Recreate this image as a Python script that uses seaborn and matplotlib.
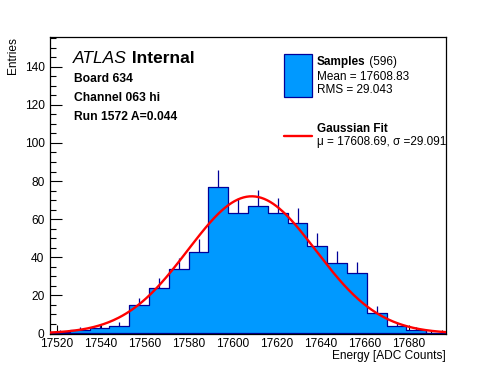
import numpy as np
import pandas as pd
import matplotlib
matplotlib.use("Agg")
import matplotlib.pyplot as plt
import seaborn as sns
from matplotlib.patches import Rectangle
from matplotlib.lines import Line2D
from matplotlib.ticker import MultipleLocator

# histogram of the energy samples (20 bins, 9 ADC counts wide)
x_low = 17517
x_high = 17697
bin_counts = [1, 2, 3, 4, 15, 24, 34, 43, 77, 63, 67, 63, 58, 46, 37, 32, 11, 4, 2, 0]

# fit result shown in the legend
fit_mu = 17608.69
fit_sigma = 29.091
fit_amp = 72.0

n_entries = 596
hist_mean = 17608.83
hist_rms = 29.043

board_lines = ["Board 634", "Channel 063 hi", "Run 1572 A=0.044"]

W, H = 496, 372
fill_col = "#0099ff"
line_col = "#000099"


def fx(px):
    return px / W


def fy(py):
    return 1 - py / H


def two_part(x, y, first, second, size, kw1, kw2):
    # one line of text where the two halves have different font styles
    t = fig.text(fx(x), fy(y), first, fontsize=size, va="baseline", **kw1)
    ax.annotate(second, xy=(1, 0), xycoords=t, va="bottom", ha="left",
                fontsize=size, annotation_clip=False, **kw2)
    return t


sns.set_style("ticks")
plt.rcParams["font.family"] = ["Liberation Sans", "DejaVu Sans"]
plt.rcParams.update({"text.color": "black", "axes.labelcolor": "black",
                     "xtick.color": "black", "ytick.color": "black",
                     "axes.edgecolor": "black"})

fig = plt.figure(figsize=(W / 100, H / 100), dpi=100)
ax = fig.add_axes([fx(50), fy(333.5), (446 - 50) / W, (333.5 - 37) / H])

edges = list(np.linspace(x_low, x_high, len(bin_counts) + 1))
centers = [(a + b) / 2 for a, b in zip(edges[:-1], edges[1:])]
df = pd.DataFrame({"energy": centers, "count": bin_counts})

# error bars sit behind the filled histogram, so only the upper half shows
err = np.sqrt(df["count"])
keep = df["count"] > 0
ax.vlines(df["energy"][keep], (df["count"] - err)[keep], (df["count"] + err)[keep],
          color=line_col, linewidth=0.9, zorder=1)

sns.histplot(data=df, x="energy", weights="count", bins=edges, element="step",
             fill=True, facecolor=fill_col, edgecolor=line_col, linewidth=0.9,
             alpha=1, ax=ax, zorder=2)

xs = np.linspace(x_low, x_high, 400)
gauss = fit_amp * np.exp(-0.5 * ((xs - fit_mu) / fit_sigma) ** 2)
sns.lineplot(x=xs, y=gauss, color="red", linewidth=1.7, ax=ax, zorder=3)

ax.set_xlim(x_low, x_high)
ax.set_ylim(0, 155.6)
ax.set_xlabel("")
ax.set_ylabel("")

ax.xaxis.set_major_locator(MultipleLocator(20))
ax.xaxis.set_minor_locator(MultipleLocator(5))
ax.yaxis.set_major_locator(MultipleLocator(20))
ax.yaxis.set_minor_locator(MultipleLocator(5))
ax.tick_params(which="both", direction="in", top=False, right=False,
               labelsize=8.6, width=0.8, color="black", labelcolor="black")
ax.tick_params(axis="y", which="major", length=8.5, pad=4)
ax.tick_params(axis="y", which="minor", length=4)
ax.tick_params(axis="x", which="major", length=6.5, pad=3.2)
ax.tick_params(axis="x", which="minor", length=3)
for s in ax.spines.values():
    s.set_visible(True)
    s.set_linewidth(0.9)
    s.set_color("black")

# axis titles, ROOT style
fig.text(fx(446), fy(358.5), "Energy [ADC Counts]", ha="right", va="baseline", fontsize=8.6)
fig.text(fx(13), fy(37), "Entries", ha="center", va="top", rotation=90, fontsize=8.6)

# ATLAS label and run info
two_part(73, 63, "ATLAS", " Internal", 12.5, {"style": "italic"}, {"fontweight": "bold"})
for i, line in enumerate(board_lines):
    fig.text(fx(74), fy(81.5 + 19.2 * i), line, fontsize=8.7, fontweight="bold", va="baseline")

# hand-made legend
fig.add_artist(Rectangle((fx(283.5), fy(96.5)), (311.5 - 283.5) / W, (96.5 - 53.5) / H,
                         transform=fig.transFigure, facecolor=fill_col,
                         edgecolor=line_col, linewidth=0.9))
two_part(317, 65, "Samples", " (%d)" % n_entries, 8.5, {"fontweight": "bold"}, {})
fig.text(fx(317), fy(79.5), "Mean = %.2f" % hist_mean, fontsize=8.5, va="baseline")
fig.text(fx(317), fy(93), "RMS = %.3f" % hist_rms, fontsize=8.5, va="baseline")

fig.add_artist(Line2D([fx(283.5), fx(311.5)], [fy(135.7), fy(135.7)],
                      transform=fig.transFigure, color="red", linewidth=1.7))
fig.text(fx(317), fy(132.5), "Gaussian Fit", fontsize=8.5, fontweight="bold", va="baseline")
fig.text(fx(317), fy(145), "\u03bc = %.2f, \u03c3 =%.3f" % (fit_mu, fit_sigma),
         fontsize=8.5, va="baseline")

fig.savefig("out.png", dpi=100, facecolor="white")
